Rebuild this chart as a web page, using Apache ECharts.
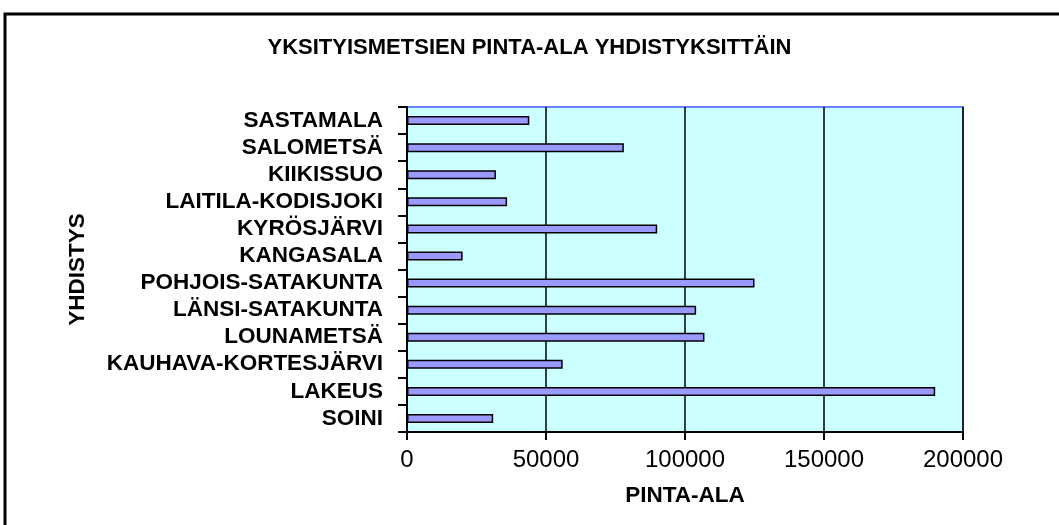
<!DOCTYPE html>
<html>
<head>
<meta charset="utf-8">
<script src="https://cdn.jsdelivr.net/npm/echarts@6/dist/echarts.min.js"></script>
<style>
html,body{margin:0;padding:0;background:#fff;}
#chart{width:1059px;height:525px;}
</style>
</head>
<body>
<div id="chart"></div>
<script>
const titleText = 'YKSITYISMETSIEN PINTA-ALA YHDISTYKSITTÄIN';
const xAxisName = 'PINTA-ALA';
const yAxisName = 'YHDISTYS';
const categories = ['SASTAMALA','SALOMETSÄ','KIIKISSUO','LAITILA-KODISJOKI','KYRÖSJÄRVI','KANGASALA','POHJOIS-SATAKUNTA','LÄNSI-SATAKUNTA','LOUNAMETSÄ','KAUHAVA-KORTESJÄRVI','LAKEUS','SOINI'];
const values = [44000, 78000, 32000, 36000, 90000, 20000, 125000, 104000, 107000, 56000, 190000, 31000];
const xMin = 0, xMax = 200000, xStep = 50000;

const FONT = '"Liberation Sans", Arial, sans-serif';
const chart = echarts.init(document.getElementById('chart'), null, {renderer:'canvas'});
chart.setOption({
  animation: false,
  backgroundColor: '#ffffff',
  title: {
    text: titleText,
    left: 'center',
    top: 32,
    textStyle: {fontFamily: FONT, fontWeight: 'bold', fontSize: 22, color: '#000'}
  },
  graphic: [{
    type: 'rect',
    shape: {x: 5, y: 14, width: 1200, height: 700},
    style: {fill: 'none', stroke: '#000', lineWidth: 3},
    silent: true
  }],
  grid: {
    left: 407, right: 96, top: 107, bottom: 93,
    show: true,
    backgroundColor: '#ccffff',
    borderColor: '#6685ff',
    borderWidth: 2
  },
  xAxis: {
    type: 'value',
    min: xMin, max: xMax, interval: xStep,
    name: xAxisName,
    nameLocation: 'middle',
    nameGap: 52,
    nameTextStyle: {fontFamily: FONT, fontWeight: 'bold', fontSize: 22.5, color: '#000'},
    axisLine: {show: true, lineStyle: {color: '#000', width: 2}},
    axisTick: {show: true, length: 8, lineStyle: {color: '#000', width: 2}},
    axisLabel: {fontFamily: FONT, fontSize: 24, color: '#000', margin: 16, formatter: function (v) { return String(v); }},
    splitLine: {show: true, lineStyle: {color: '#000', width: 1.5}}
  },
  yAxis: {
    type: 'category',
    data: categories,
    inverse: true,
    name: yAxisName,
    nameLocation: 'middle',
    nameGap: 318,
    nameRotate: 90,
    nameTextStyle: {fontFamily: FONT, fontWeight: 'bold', fontSize: 22.5, color: '#000'},
    axisLine: {show: true, lineStyle: {color: '#000', width: 2}},
    axisTick: {show: true, length: 9, interval: 0, lineStyle: {color: '#000', width: 2}},
    axisLabel: {fontFamily: FONT, fontWeight: 'bold', fontSize: 22.5, color: '#000', margin: 24, interval: 0},
    splitLine: {show: false}
  },
  series: [{
    type: 'bar',
    data: values,
    barWidth: 9,
    itemStyle: {color: '#9999ff', borderColor: '#000', borderWidth: 1.5}
  }]
});
</script>
</body>
</html>
